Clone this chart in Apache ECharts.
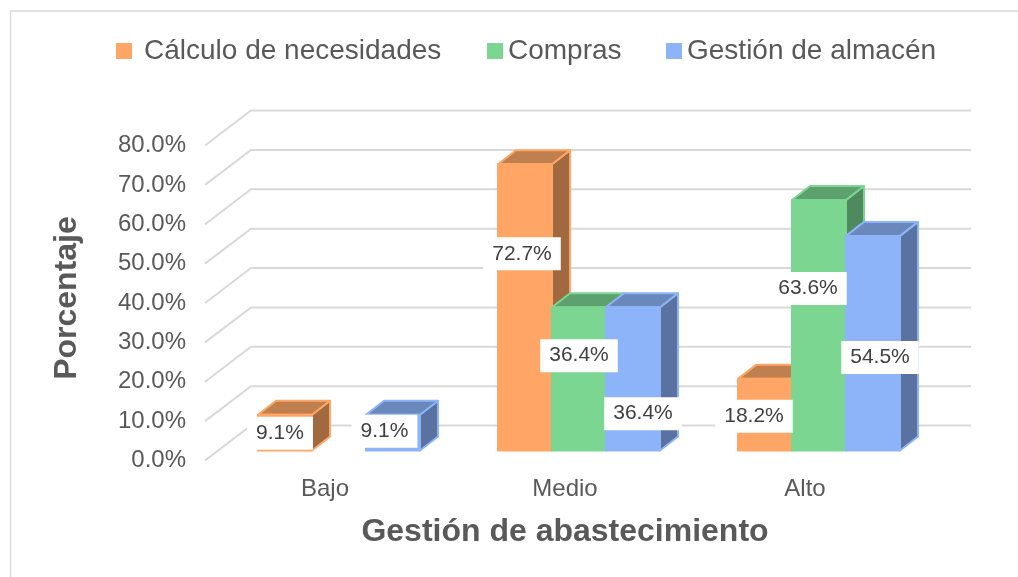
<!DOCTYPE html>
<html>
<head>
<meta charset="utf-8">
<style>html,body{margin:0;padding:0;background:#fff}#c{width:1018px;height:577px}</style>
<script src="https://cdn.jsdelivr.net/npm/echarts@6/dist/echarts.min.js"></script>
</head>
<body>
<div id="c"></div>
<script>
const categories = ['Bajo', 'Medio', 'Alto'];
const seriesNames = ['Cálculo de necesidades', 'Compras', 'Gestión de almacén'];
const calculo = [9.1, 72.7, 18.2];
const compras = [null, 36.4, 63.6];
const almacen = [9.1, 36.4, 54.5];
const yTicks = [0, 10, 20, 30, 40, 50, 60, 70, 80];

const values = [calculo, compras, almacen];
const faces = [
  { front: '#FFA666', top: '#C07F4E', side: '#A1693F' },
  { front: '#7BD692', top: '#5CA16E', side: '#4E8A5E' },
  { front: '#8DB4F8', top: '#6A88BC', side: '#5A729F' }
];
// label displacement from the bar's front-face top centre, in pixels
const labelNudge = [
  [[-5, 18.5], [-3, 89.5], [-11, 37.5]],
  [null, [0, 48.5], [-11, 88.5]],
  [[-8.5, 16.5], [10, 106.5], [7, 121.5]]
];
const WALL_DX = 46, WALL_DY = -35;     // floor depth
const BAR_DX = 18, BAR_DY = -14;       // bar depth
const INSET_DX = 14, INSET_DY = -10;   // bar position inside the floor
const BAR_FRACTION = 0.225;

function barFrame(api, s) {
  const cat = api.value(0), val = api.value(1);
  const base = api.coord([cat, 0]), top = api.coord([cat, val]);
  const w = api.size([1, 0])[0] * BAR_FRACTION;
  const x0 = base[0] + (s - 1) * w - w / 2 + INSET_DX;
  return { x0, x1: x0 + w, yb: base[1] + INSET_DY, yt: top[1] + INSET_DY, w };
}
function barRender(s) {
  return function (params, api) {
    if (isNaN(api.value(1))) return;
    const f = barFrame(api, s), c = faces[s];
    const poly = (pts, fill) => ({
      type: 'polygon', shape: { points: pts },
      style: { fill, stroke: c.front, lineWidth: 2, lineJoin: 'round' }
    });
    return {
      type: 'group',
      children: [
        poly([[f.x1, f.yb], [f.x1 + BAR_DX, f.yb + BAR_DY], [f.x1 + BAR_DX, f.yt + BAR_DY], [f.x1, f.yt]], c.side),
        poly([[f.x0, f.yt], [f.x1, f.yt], [f.x1 + BAR_DX, f.yt + BAR_DY], [f.x0 + BAR_DX, f.yt + BAR_DY]], c.top),
        poly([[f.x0, f.yb], [f.x1, f.yb], [f.x1, f.yt], [f.x0, f.yt]], c.front)
      ]
    };
  };
}
function gridRender(params, api) {
  const p = api.coord([0, api.value(0)]);
  const x0 = params.coordSys.x, x1 = x0 + params.coordSys.width;
  return {
    type: 'polyline',
    shape: { points: [[x0, p[1]], [x0 + WALL_DX, p[1] + WALL_DY], [x1 + WALL_DX, p[1] + WALL_DY]] },
    style: { fill: null, stroke: '#D9D9D9', lineWidth: 2 }
  };
}
function labelRender(params, api) {
  const s = api.value(2), cat = api.value(0);
  const f = barFrame(api, s), n = labelNudge[s][cat];
  return {
    type: 'text',
    style: {
      x: (f.x0 + f.x1) / 2 + n[0], y: f.yt + n[1],
      text: api.value(1).toFixed(1) + '%',
      align: 'center', verticalAlign: 'middle',
      fill: '#404040', font: '21px "Liberation Sans"',
      backgroundColor: '#FFFFFF', padding: [6.5, 9, 5.5, 9]
    }
  };
}

const labelData = [];
values.forEach((arr, s) => arr.forEach((v, i) => { if (v !== null) labelData.push([i, v, s]); }));

const legendBase = {
  orient: 'horizontal', top: 32, icon: 'rect', itemWidth: 16, itemHeight: 16,
  textStyle: { color: '#595959', fontSize: 28, fontFamily: 'Liberation Sans' }
};
const chart = echarts.init(document.getElementById('c'), null, { renderer: 'canvas' });
chart.setOption({
  animation: false,
  backgroundColor: '#FFFFFF',
  textStyle: { fontFamily: 'Liberation Sans' },
  graphic: [{
    type: 'rect', silent: true,
    shape: { x: 10.5, y: 11, width: 1100, height: 700 },
    style: { fill: null, stroke: '#D9D9D9', lineWidth: 1.5 }
  }],
  legend: [
    Object.assign({}, legendBase, { left: 111, data: [seriesNames[0]], textStyle: Object.assign({}, legendBase.textStyle, { padding: [0, 0, 0, 7] }) }),
    Object.assign({}, legendBase, { left: 482, data: [seriesNames[1]] }),
    Object.assign({}, legendBase, { left: 661, data: [seriesNames[2]] })
  ],
  grid: { left: 205, right: 93, top: 145.5, bottom: 116.5 },
  xAxis: {
    type: 'category', data: categories,
    axisLine: { show: false }, axisTick: { show: false }, splitLine: { show: false },
    axisLabel: { color: '#595959', fontSize: 24, margin: 17 },
    name: 'Gestión de abastecimiento', nameLocation: 'middle', nameGap: 56,
    nameTextStyle: { color: '#595959', fontSize: 32, fontWeight: 'bold' }
  },
  yAxis: {
    type: 'value', min: 0, max: 80, interval: 10,
    axisLine: { show: false }, axisTick: { show: false }, splitLine: { show: false },
    axisLabel: { color: '#595959', fontSize: 24, margin: 19, padding: [6, 0, 0, 0], formatter: v => v.toFixed(1) + '%' },
    name: 'Porcentaje', nameLocation: 'middle', nameGap: 122,
    nameTextStyle: { color: '#595959', fontSize: 32, fontWeight: 'bold', padding: [0, 0, 0, 10] }
  },
  series: [
    { type: 'custom', name: 'grid', coordinateSystem: 'cartesian2d', silent: true, z: 1,
      data: yTicks.map(v => [v]), encode: { y: 0 }, renderItem: gridRender }
  ].concat(values.map((arr, s) => ({
    type: 'custom', name: seriesNames[s], coordinateSystem: 'cartesian2d', z: 2,
    itemStyle: { color: faces[s].front },
    data: arr.map((v, i) => [i, v === null ? NaN : v]),
    encode: { x: 0, y: 1 }, renderItem: barRender(s)
  }))).concat([
    { type: 'custom', name: 'labels', coordinateSystem: 'cartesian2d', silent: true, z: 5,
      data: labelData, encode: { x: 0, y: 1 }, renderItem: labelRender }
  ])
});
</script>
</body>
</html>
